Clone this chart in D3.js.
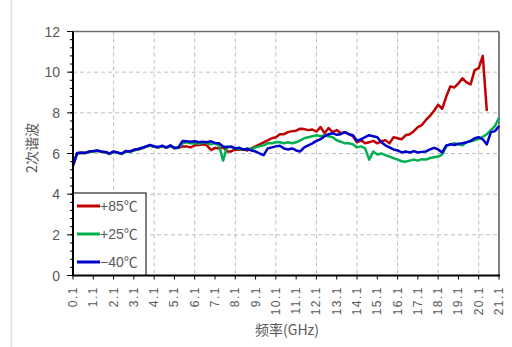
<!DOCTYPE html>
<html><head><meta charset="utf-8">
<script src="https://cdn.jsdelivr.net/npm/d3@7/dist/d3.min.js"></script>
<style>body{margin:0;background:#fff}svg{display:block}</style>
</head><body>
<svg id="c" width="512" height="347"></svg>
<script>
const freq = [0.1,0.3,0.5,0.7,0.9,1.1,1.3,1.5,1.7,1.9,2.1,2.3,2.5,2.7,2.9,3.1,3.3,3.5,3.7,3.9,4.1,4.3,4.5,4.7,4.9,5.1,5.3,5.5,5.7,5.9,6.1,6.3,6.5,6.7,6.9,7.1,7.3,7.5,7.7,7.9,8.1,8.3,8.5,8.7,8.9,9.1,9.3,9.5,9.7,9.9,10.1,10.3,10.5,10.7,10.9,11.1,11.3,11.5,11.7,11.9,12.1,12.3,12.5,12.7,12.9,13.1,13.3,13.5,13.7,13.9,14.1,14.3,14.5,14.7,14.9,15.1,15.3,15.5,15.7,15.9,16.1,16.3,16.5,16.7,16.9,17.1,17.3,17.5,17.7,17.9,18.1,18.3,18.5,18.7,18.9,19.1,19.3,19.5,19.7,19.9,20.1,20.3,20.5,20.7,20.9,21.1];

const red85 = [5.4,6.0,6.03,6.02,6.08,6.1,6.13,6.08,6.06,5.98,6.08,6.03,5.98,6.1,6.08,6.16,6.2,6.26,6.33,6.4,6.33,6.3,6.36,6.28,6.38,6.26,6.28,
6.35,6.35,6.3,6.4,6.42,6.45,6.4,6.17,6.28,6.25,6.3,6.1,6.1,6.2,6.18,6.2,6.15,6.25,6.35,6.45,6.55,6.65,6.75,6.8,6.95,6.95,7.05,7.1,7.12,7.22,7.2,7.15,7.18,7.08,7.3,7.0,7.25,7.05,7.15,7.0,7.05,6.95,6.85,6.55,6.65,6.5,6.55,6.62,6.5,
6.6,6.65,6.5,6.8,6.75,6.7,6.9,6.95,7.1,7.3,7.4,7.65,7.85,8.1,8.4,8.2,8.8,9.3,9.25,9.45,9.7,9.5,9.4,10.1,10.2,10.8,8.1,null,null,null];

const green25 = [5.4,6.0,6.03,6.02,6.08,6.1,6.13,6.08,6.06,5.98,6.08,6.03,5.98,6.1,6.08,6.16,6.2,6.26,6.33,6.4,6.33,6.3,6.36,6.28,6.38,6.26,6.28,
6.5,6.55,6.5,6.52,6.48,6.55,6.5,6.45,6.5,6.4,5.65,6.35,6.3,6.25,6.22,6.2,6.25,6.2,6.3,6.35,6.4,6.5,6.5,6.55,6.55,6.5,6.55,6.5,6.55,6.65,6.75,6.8,6.85,6.9,6.85,6.9,6.85,6.8,6.65,6.58,6.5,6.5,6.45,6.3,6.35,6.25,5.7,6.1,5.95,
6.0,5.92,5.85,5.77,5.7,5.62,5.6,5.65,5.7,5.65,5.72,5.7,5.78,5.82,5.85,5.95,6.35,6.45,6.5,6.45,6.4,6.55,6.6,6.65,6.72,6.82,6.95,7.15,7.35,7.75];

const blue40 = [5.4,6.02,6.05,6.03,6.1,6.12,6.15,6.1,6.08,6.0,6.1,6.05,6.0,6.12,6.1,6.18,6.22,6.28,6.35,6.42,6.35,6.32,6.38,6.3,6.4,6.28,6.3,
6.62,6.6,6.58,6.6,6.55,6.58,6.55,6.6,6.52,6.5,6.35,6.3,6.35,6.25,6.28,6.2,6.22,6.15,6.1,6.0,5.92,6.25,6.3,6.35,6.38,6.25,6.2,6.25,6.15,6.1,6.3,6.4,6.5,6.62,6.7,6.85,6.95,7.0,6.92,6.95,7.05,6.95,6.9,6.62,6.7,6.8,6.9,6.85,6.8,
6.55,6.4,6.3,6.2,6.15,6.05,6.1,6.05,6.12,6.05,6.08,6.1,6.2,6.28,6.2,6.05,6.4,6.45,6.42,6.48,6.5,6.55,6.62,6.75,6.8,6.7,6.45,7.05,7.1,7.35];

const yTicks = [0,2,4,6,8,10,12];
const xTicks = [0.1,1.1,2.1,3.1,4.1,5.1,6.1,7.1,8.1,9.1,10.1,11.1,12.1,13.1,14.1,15.1,16.1,17.1,18.1,19.1,20.1,21.1];
const xGrid = [2.1,4.1,6.1,8.1,10.1,12.1,14.1,16.1,18.1,20.1];
const seriesNames = ["+85℃","+25℃","−40℃"];
const seriesColors = ["#c00000","#00b050","#0000cc"];
const seriesData = [red85, green25, blue40];

const svg = d3.select("#c");
const L = 73, R = 499, T = 31.5, B = 275.5;
const x = d3.scaleLinear().domain([0.1, 21.1]).range([L, R]);
const y = d3.scaleLinear().domain([0, 12]).range([B, T]);
const txt = "#595959";

// page left border
svg.append("line").attr("x1",11.5).attr("x2",11.5).attr("y1",0).attr("y2",347)
  .attr("stroke","#e3e3e3").attr("stroke-width",1.5);

// grid
svg.append("g").selectAll("line").data(yTicks.filter(d=>d>0&&d<12)).join("line")
  .attr("x1",L).attr("x2",R).attr("y1",d=>y(d)).attr("y2",d=>y(d))
  .attr("stroke","#bfbfbf").attr("stroke-dasharray","4,3");
svg.append("g").selectAll("line").data(xGrid).join("line")
  .attr("x1",d=>x(d)).attr("x2",d=>x(d)).attr("y1",T).attr("y2",B)
  .attr("stroke","#bfbfbf").attr("stroke-dasharray","4,3");

// top & right frame
svg.append("line").attr("x1",L).attr("x2",R).attr("y1",T).attr("y2",T).attr("stroke","#6e6e6e").attr("stroke-width",1.5);
svg.append("line").attr("x1",R).attr("x2",R).attr("y1",T).attr("y2",B).attr("stroke","#808080").attr("stroke-width",2);

// lines
const line = d3.line().defined(d=>d[1]!=null).x(d=>x(d[0])).y(d=>y(d[1]));
seriesData.forEach((s,i)=>{
  svg.append("path").datum(freq.map((f,j)=>[f,s[j]]))
    .attr("d",line).attr("fill","none").attr("stroke",seriesColors[i])
    .attr("stroke-width",2.5).attr("stroke-linejoin","round");
});

// legend
const lg = svg.append("g");
lg.append("rect").attr("x",L).attr("y",193).attr("width",73).attr("height",B-193)
  .attr("fill","#fff").attr("stroke","#000").attr("stroke-width",1);
seriesNames.forEach((n,i)=>{
  const yy = 206 + i*28;
  lg.append("line").attr("x1",77).attr("x2",100).attr("y1",yy).attr("y2",yy)
    .attr("stroke",seriesColors[i]).attr("stroke-width",3);
  lg.append("text").attr("x",100).attr("y",yy+5).text(n)
    .attr("fill",txt).attr("font-size",14).attr("font-family","Liberation Sans, Noto Sans CJK SC");
});

// y axis
const yMinor = d3.range(0,12.01,0.4);
svg.append("g").selectAll("line").data(yMinor).join("line")
  .attr("x1",L-3).attr("x2",L).attr("y1",d=>y(d)).attr("y2",d=>y(d)).attr("stroke","#000");
svg.append("g").selectAll("line").data(yTicks).join("line")
  .attr("x1",L-6).attr("x2",L).attr("y1",d=>y(d)).attr("y2",d=>y(d)).attr("stroke","#000");
svg.append("line").attr("x1",L).attr("x2",L).attr("y1",T).attr("y2",B+0.5).attr("stroke","#000").attr("stroke-width",2);
svg.append("g").selectAll("text").data(yTicks).join("text")
  .attr("x",60).attr("y",d=>y(d)+5).attr("text-anchor","end").text(d=>d)
  .attr("fill",txt).attr("font-size",14).attr("font-family","Liberation Sans");

// x axis
svg.append("g").selectAll("line").data(xTicks).join("line")
  .attr("x1",d=>x(d)).attr("x2",d=>x(d)).attr("y1",B).attr("y2",B+4).attr("stroke","#000");
svg.append("line").attr("x1",L-1).attr("x2",R+1).attr("y1",B).attr("y2",B).attr("stroke","#000").attr("stroke-width",2);
svg.append("g").selectAll("text").data(xTicks).join("text")
  .attr("transform",d=>`translate(${x(d)+4},286) rotate(-90)`)
  .attr("text-anchor","end").text(d=>d.toFixed(1))
  .attr("fill",txt).attr("font-size",12).attr("letter-spacing","1.5px").attr("font-family","Liberation Sans");

// titles
svg.append("text").attr("x",287).attr("y",335).attr("text-anchor","middle").text("频率(GHz)")
  .attr("fill",txt).attr("font-size",14).attr("font-family","Noto Sans CJK SC");
svg.append("text").attr("transform","translate(37,148) rotate(-90)").attr("text-anchor","middle").text("2次谐波")
  .attr("fill",txt).attr("font-size",14).attr("font-family","Noto Sans CJK SC");
</script>
</body></html>
